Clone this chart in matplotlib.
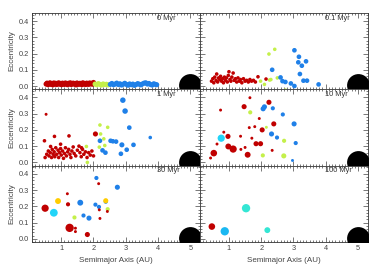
import matplotlib
matplotlib.use("Agg")
import matplotlib.pyplot as plt
from matplotlib.ticker import MultipleLocator

plt.rcParams['font.family'] = ['Liberation Sans', 'DejaVu Sans']

COLORS = {'r': '#c00000', 'g': '#c4f04a', 'b': '#1f80e8', 'c': '#22d4f8',
          'y': '#ffcc00', 't': '#34e6d4', 'k': '#1ab8f2'}

# ---- 0 Myr ----
a0_red = [0.53, 0.56, 0.59, 0.62, 0.65, 0.68, 0.71, 0.74, 0.77, 0.80, 0.83, 0.86, 0.89,
          0.92, 0.95, 0.98, 1.01, 1.04, 1.07, 1.10, 1.13, 1.16, 1.19, 1.22, 1.25, 1.28,
          1.31, 1.34, 1.37, 1.40, 1.43, 1.46, 1.49, 1.52, 1.55, 1.58, 1.61, 1.64, 1.67,
          1.70, 1.73, 1.76, 1.79, 1.82, 1.85, 1.88, 1.91, 1.94, 1.97, 2.00]
e0_red = [0.012, 0.018, 0.008, 0.015, 0.020, 0.010, 0.016, 0.007, 0.019, 0.012, 0.017,
          0.009, 0.014, 0.020, 0.011, 0.016, 0.008, 0.018, 0.013, 0.010, 0.019, 0.015,
          0.008, 0.017, 0.012, 0.020, 0.009, 0.014, 0.018, 0.011, 0.016, 0.007, 0.019,
          0.013, 0.010, 0.017, 0.015, 0.008, 0.020, 0.012, 0.016, 0.009, 0.018, 0.014,
          0.010, 0.019, 0.013, 0.017, 0.011, 0.022]
a0_grn = [2.05, 2.10, 2.15, 2.20, 2.25, 2.30, 2.35, 2.40, 2.45]
e0_grn = [0.012, 0.008, 0.015, 0.010, 0.006, 0.013, 0.009, 0.011, 0.007]
a0_blu = [2.52, 2.57, 2.62, 2.67, 2.72, 2.77, 2.82, 2.87, 2.92, 2.97, 3.02, 3.07, 3.12,
          3.17, 3.22, 3.27, 3.32, 3.37, 3.42, 3.47, 3.52, 3.57, 3.62, 3.67, 3.72, 3.77,
          3.82, 3.87, 3.92, 3.96]
e0_blu = [0.010, 0.016, 0.008, 0.012, 0.018, 0.009, 0.014, 0.006, 0.011, 0.017, 0.010,
          0.005, 0.013, 0.008, 0.012, 0.004, 0.009, 0.015, 0.011, 0.007, 0.013, 0.018,
          0.020, 0.012, 0.016, 0.009, 0.006, 0.014, 0.010, 0.008]

# ---- 0.1 Myr ----
a1 = [0.46, 0.50, 0.53, 0.56, 0.60, 0.62, 0.65, 0.68, 0.71, 0.74, 0.77, 0.80, 0.83,
      0.86, 0.89, 0.92, 0.95, 0.98, 1.00, 1.03, 1.06, 1.09, 1.13, 1.16, 1.20, 1.24,
      1.28, 1.32, 1.36, 1.40, 1.45, 1.50, 1.55, 1.60, 1.65, 1.70, 1.76, 1.82, 1.90, 2.15,
      1.98, 2.10, 2.26, 2.30, 2.24, 2.42, 2.50, 2.75,
      3.03, 3.17, 3.15, 3.26, 3.39, 3.20, 3.31, 3.42, 2.34, 2.60, 2.66, 2.75, 2.92, 3.03, 3.78]
e1 = [0.030, 0.045, 0.020, 0.055, 0.035, 0.074, 0.025, 0.050, 0.040, 0.060, 0.030, 0.045,
      0.020, 0.055, 0.035, 0.050, 0.025, 0.065, 0.088, 0.040, 0.030, 0.055, 0.080, 0.035,
      0.045, 0.025, 0.050, 0.030, 0.040, 0.020, 0.045, 0.030, 0.035, 0.025, 0.040, 0.030,
      0.035, 0.025, 0.057, 0.043,
      0.030, 0.010, 0.037, 0.040, 0.197, 0.226, 0.050, -0.025,
      0.220, 0.180, 0.146, 0.125, 0.152, 0.074, 0.033, 0.033, 0.100, 0.053, 0.030, 0.025,
      0.016, 0.000, 0.010]
c1 = ['r'] * 40 + ['g'] * 8 + ['b'] * 15
m1 = [1.5] * 40 + [1.5] * 8 + [2.5] * 15

# ---- 1 Myr ----
a2 = [0.53, 0.48, 0.79, 0.67, 0.98, 1.24, 2.06, 1.63,
      0.50, 0.55, 0.60, 0.62, 0.66, 0.70, 0.72, 0.75, 0.78, 0.80, 0.83, 0.86, 0.90, 0.92,
      0.95, 0.98, 1.00, 1.04, 1.07, 1.10, 1.13, 1.16, 1.20, 1.23, 1.27, 1.30, 1.33, 1.37,
      1.40, 1.45, 1.50, 1.55, 1.58, 1.62, 1.66, 1.70, 1.75, 1.80, 1.85, 1.90, 1.95, 2.00,
      2.20, 2.44, 2.22, 2.32, 2.18, 2.35, 1.81, 1.78,
      2.91, 2.98, 3.11, 3.76, 2.20, 2.53, 2.60, 2.70, 2.88, 3.24, 3.03, 2.85, 2.28, 2.37]
e2 = [0.296, 0.133, 0.160, 0.098, 0.112, 0.163, 0.175, 0.090,
      0.030, 0.050, 0.070, 0.040, 0.060, 0.030, 0.080, 0.050, 0.065, 0.035, 0.090, 0.050,
      0.075, 0.030, 0.060, 0.085, 0.045, 0.070, 0.025, 0.055, 0.090, 0.040, 0.065, 0.080,
      0.050, 0.030, 0.070, 0.095, 0.055, 0.040, 0.075, 0.100, 0.060, 0.035, 0.080, 0.050,
      0.065, 0.030, 0.060, 0.045, 0.070, 0.040,
      0.230, 0.216, 0.175, 0.145, 0.094, 0.104, 0.000, 0.098,
      0.383, 0.316, 0.214, 0.153, 0.133, 0.133, 0.130, 0.128, 0.108, 0.108, 0.078, 0.053,
      0.074, 0.060]
c2 = ['r'] * 50 + ['g'] * 8 + ['b'] * 14
m2 = [1, 1.5, 1.5, 1.5, 1.5, 1.5, 3, 1.5] + [1.5] * 42 + [1.5] * 8 + \
     [3.5, 3.5, 2.5, 1.5, 2.5, 2.5, 2.5, 2.5, 3, 2.5, 2.5, 2.5, 2.5, 2.5]

# ---- 10 Myr ----
a3 = [0.74, 1.65, 1.47, 2.24, 1.94, 1.63, 1.80, 2.03, 2.39, 0.84, 0.97, 1.36, 1.71,
      0.63, 0.98, 1.13, 1.37, 1.50, 1.84, 1.98, 2.34, 0.53, 0.43, 1.58,
      0.76,
      1.66, 2.16, 2.71, 2.05, 2.70,
      2.06, 2.10, 2.36, 2.67, 3.02, 2.32, 2.49, 3.07, 2.97]
e3 = [0.322, 0.398, 0.343, 0.370, 0.270, 0.214, 0.220, 0.200, 0.237, 0.186, 0.160, 0.161,
      0.149, 0.113, 0.098, 0.082, 0.080, 0.092, 0.115, 0.115, 0.074, 0.057, 0.027, 0.047,
      0.149,
      0.308, 0.216, 0.133, 0.043, 0.040,
      0.330, 0.342, 0.333, 0.295, 0.237, 0.175, 0.153, 0.119, 0.012]
c3 = ['r'] * 24 + ['c'] + ['g'] * 5 + ['b'] * 9
m3 = [1, 1, 3, 3, 1, 1, 1, 3, 3, 1, 3, 1, 1, 1, 4, 6, 1, 1, 3, 3, 1, 5, 1, 4,
      6, 2, 1, 2, 2, 3, 3, 3, 2, 2, 3, 3, 2, 2, 1]

# ---- 30 Myr ----
a4 = [0.50, 0.77, 0.90, 1.19, 1.21, 1.41, 1.59, 1.69, 1.86, 1.26, 1.44, 1.44, 1.81,
      2.09, 2.16, 2.74, 2.06, 2.17, 2.18, 2.20, 2.38, 2.38, 2.44, 2.43]
e4 = [0.188, 0.160, 0.232, 0.277, 0.212, 0.131, 0.222, 0.143, 0.127, 0.067, 0.065, 0.044,
      0.026, 0.374, 0.339, 0.317, 0.210, 0.196, 0.178, 0.125, 0.228, 0.234, 0.182, 0.168]
c4 = ['r', 'c', 'y', 'r', 'r', 'g', 'b', 'b', 'b', 'r', 'r', 'r', 'r',
      'b', 'r', 'b', 'b', 'b', 'r', 'r', 'b', 'y', 'g', 'r']
m4 = [6, 7, 4, 1, 2, 2, 4, 2, 3, 8, 1, 1, 3, 2, 1, 3, 2, 2, 1, 1, 2, 3, 2, 1]

# ---- 100 Myr ----
a5 = [0.47, 0.87, 1.53, 2.19]
e5 = [0.075, 0.046, 0.188, 0.053]
c5 = ['r', 'k', 't', 't']
m5 = [5, 8, 8, 4]

a0 = a0_red + a0_grn + a0_blu
e0 = e0_red + e0_grn + e0_blu
c0 = ['r'] * len(a0_red) + ['g'] * len(a0_grn) + ['b'] * len(a0_blu)
m0 = [3] * len(a0)

panels = [(a0, e0, c0, m0, '0 Myr'), (a1, e1, c1, m1, '0.1 Myr'),
          (a2, e2, c2, m2, '1 Myr'), (a3, e3, c3, m3, '10 Myr'),
          (a4, e4, c4, m4, '30 Myr'), (a5, e5, c5, m5, '100 Myr')]

jup_a, jup_e = 5.0, 0.005

fig, axes = plt.subplots(3, 2, figsize=(3.79, 2.75), dpi=100)
fig.subplots_adjust(left=0.085, right=0.97, top=0.953, bottom=0.12, hspace=0, wspace=0)

for i, (ax, (a, e, c, m, lab)) in enumerate(zip(axes.flat, panels)):
    ax.scatter(a, e, s=[4.5 * v for v in m], c=[COLORS[k] for k in c], linewidths=0, zorder=3)
    ax.scatter([jup_a], [jup_e], s=270, c='black', linewidths=0, zorder=4)
    ax.set_xlim(0.1, 5.3)
    ax.set_ylim(-0.02, 0.45)
    ax.xaxis.set_major_locator(MultipleLocator(1))
    ax.xaxis.set_minor_locator(MultipleLocator(0.1))
    ax.yaxis.set_major_locator(MultipleLocator(0.1))
    ax.yaxis.set_minor_locator(MultipleLocator(0.02))
    ax.tick_params(which='both', direction='in', top=True, right=True,
                   labelsize=5.3, colors='#444444', width=0.5, pad=2)
    ax.tick_params(which='major', length=3.5)
    ax.tick_params(which='minor', length=1.5)
    for sp in ax.spines.values():
        sp.set_linewidth(0.6)
        sp.set_color('#333333')
    ax.text(0.745, 0.93, lab, transform=ax.transAxes, fontsize=5.3, color='#333333',
            ha='left', va='center')
    if i % 2 == 0:
        ax.set_ylabel('Eccentricity', fontsize=5.8, color='#444444', labelpad=3)
    else:
        ax.tick_params(labelleft=False)
    if i < 4:
        ax.tick_params(labelbottom=False)
    else:
        ax.set_xlabel('Semimajor Axis (AU)', fontsize=5.8, color='#444444', labelpad=4)

fig.savefig('out.png', dpi=100)
